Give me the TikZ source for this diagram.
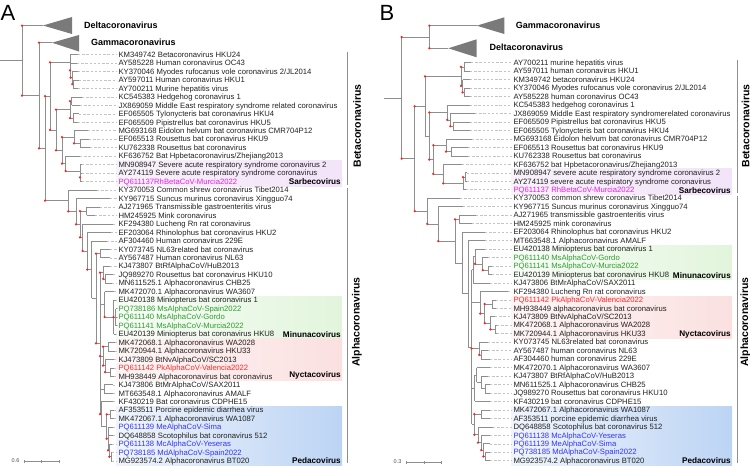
\documentclass[tikz,border=0pt]{standalone}
\usepackage{fontspec}
\setmainfont{Liberation Sans}
\usetikzlibrary{calc}
\definecolor{brc}{HTML}{8E8E8E}
\definecolor{dashc}{HTML}{C4C4C4}
\definecolor{txtc}{HTML}{222222}
\definecolor{dotc}{HTML}{FF1F1F}
\definecolor{tric}{HTML}{7A7A7A}
\definecolor{magL}{HTML}{E81FE8}
\definecolor{grnL}{HTML}{2E9E2E}
\definecolor{redL}{HTML}{FF2A2A}
\definecolor{bluL}{HTML}{3535F5}
\definecolor{sarL}{HTML}{F8F2FA}
\definecolor{sarR}{HTML}{F3E4F9}
\definecolor{minL}{HTML}{F8FCF7}
\definecolor{minR}{HTML}{E2F5DC}
\definecolor{nycL}{HTML}{FDF5F5}
\definecolor{nycR}{HTML}{FBE0E0}
\definecolor{pedL}{HTML}{F0F5FC}
\definecolor{pedR}{HTML}{BCD4F4}
\tikzset{
  br/.style={draw=brc,line width=0.6pt},
  dashln/.style={draw=dashc,line width=0.5pt,dash pattern=on 2.4pt off 1.8pt},
  lbl/.style={inner xsep=1.5pt,inner ysep=0pt,font=\fontsize{7.7}{8}\selectfont},
  clab/.style={inner sep=0pt,font=\fontsize{8.2}{9}\selectfont\bfseries,text=black,anchor=east},
  glab/.style={inner sep=0pt,font=\fontsize{9}{10}\selectfont\bfseries,text=black,anchor=west},
  vlab/.style={inner sep=0pt,rotate=90,font=\fontsize{10.5}{12}\selectfont\bfseries,text=black},
  tri/.style={fill=tric},
  brk/.style={draw=brc,line width=0.7pt},
  scl/.style={draw=brc,line width=0.5pt},
  scltxt/.style={inner sep=0pt,font=\fontsize{5.5}{6}\selectfont,text=black!70},
  panel/.style={inner sep=0pt,anchor=base west,font=\fontsize{22}{24}\selectfont,text=black}
}
\newcommand\lfA[5]{%
  \coordinate (#1) at (#3,{54.5+(#2-1)*8.469});
  \node[lbl,text=#4,anchor=base west] (#1t) at (116.8,{54.5+(#2-1)*8.469+2.75}) {#5};
  \draw[dashln] (#1) -- (#1t.west |- #1);
}
\newcommand\lfB[5]{%
  \coordinate (#1) at (#3,{62.7+(#2-1)*8.468});
  \node[lbl,text=#4,anchor=base west] (#1t) at (511.8,{62.7+(#2-1)*8.468+2.75}) {#5};
  \draw[dashln] (#1) -- (#1t.west |- #1);
}
\newcommand\clade[4]{%
  \coordinate (#1m) at ($(#3)!0.5!(#4)$);
  \coordinate (#1) at (#2,0 |- #1m);
  \draw[br] (#1 |- #3) -- (#1 |- #4);
  \draw[br] (#1 |- #3) -- (#3);
  \draw[br] (#1 |- #4) -- (#4);
}
\newcommand\midchild[2]{\draw[br] (#1 |- #2) -- (#2);}
\newcommand\sdot[2]{\fill[dotc] (#1 |- #2) circle (1.25pt);}
\begin{document}
\begin{tikzpicture}[x=1pt,y=-1pt]
\useasboundingbox (0,0) rectangle (750,466);
% ---------- highlight boxes ----------
\shade[left color=sarL, right color=sarR] (116,160) rectangle (342,186);
\shade[left color=minL, right color=minR] (116,296) rectangle (342,338);
\shade[left color=nycL, right color=nycR] (116,338) rectangle (342,380);
\shade[left color=pedL, right color=pedR] (116,406) rectangle (342,466);
\shade[left color=sarL, right color=sarR] (511,168.5) rectangle (732,194);
\shade[left color=minL, right color=minR] (511,245) rectangle (732,279);
\shade[left color=nycL, right color=nycR] (511,296) rectangle (732,338);
\shade[left color=pedL, right color=pedR] (511,406) rectangle (732,466);
% ---------- panel letters ----------
\node[panel] (pA) at (0.5,20) {A};
\node[panel] (pB) at (379.5,20) {B};
% ================= PANEL A =================
\coordinate (dA) at (43,25.5);
\fill[tri] (dA) -- (72,17) -- (72,34) -- cycle;
\coordinate (gA) at (52,42.7);
\fill[tri] (gA) -- (79,35) -- (79,51.5) -- cycle;
\node[glab] (dAl) at (84,25.5) {Deltacoronavirus};
\node[glab] (gAl) at (91,42.7) {Gammacoronavirus};
\lfA{a1}{1}{78}{txtc}{KM349742 Betacoronavirus HKU24}
\lfA{a2}{2}{77}{txtc}{AY585228 Human coronavirus OC43}
\lfA{a3}{3}{78}{txtc}{KY370046 Myodes rufocanus vole coronavirus 2/JL2014}
\lfA{a4}{4}{79}{txtc}{AY597011 Human coronavirus HKU1}
\lfA{a5}{5}{78}{txtc}{AY700211 Murine hepatitis virus}
\lfA{a6}{6}{82}{txtc}{KC545383 Hedgehog coronavirus 1}
\lfA{a7}{7}{80}{txtc}{JX869059 Middle East respiratory syndrome related coronavirus}
\lfA{a8}{8}{79}{txtc}{EF065505 Tylonycteris bat coronavirus HKU4}
\lfA{a9}{9}{78}{txtc}{EF065509 Pipistrellus bat coronavirus HKU5}
\lfA{a10}{10}{88}{txtc}{MG693168 Eidolon helvum bat coronavirus CMR704P12}
\lfA{a11}{11}{89}{txtc}{EF065513 Rousettus bat coronavirus HKU9}
\lfA{a12}{12}{90}{txtc}{KU762338 Rousettus bat coronavirus}
\lfA{a13}{13}{80}{txtc}{KF636752 Bat Hpbetacoronavirus/Zhejiang2013}
\lfA{a14}{14}{82}{txtc}{MN908947 Severe acute respiratory syndrome coronavirus 2}
\lfA{a15}{15}{82}{txtc}{AY274119 Severe acute respiratory syndrome coronavirus}
\lfA{a16}{16}{82}{magL}{PQ611137RhBetaCoV-Murcia2022}
\lfA{a17}{17}{97}{txtc}{KY370053 Common shrew coronavirus Tibet2014}
\lfA{a18}{18}{110}{txtc}{KY967715 Suncus murinus coronavirus Xingguo74}
\lfA{a19}{19}{100}{txtc}{AJ271965 Transmissible gastroenteritis virus}
\lfA{a20}{20}{95}{txtc}{HM245925 Mink coronavirus}
\lfA{a21}{21}{113}{txtc}{KF294380 Lucheng Rn rat coronavirus}
\lfA{a22}{22}{111}{txtc}{EF203064 Rhinolophus bat coronavirus HKU2}
\lfA{a23}{23}{107}{txtc}{AF304460 Human coronavirus 229E}
\lfA{a24}{24}{110}{txtc}{KY073745 NL63related bat coronavirus}
\lfA{a25}{25}{110}{txtc}{AY567487 Human coronavirus NL63}
\lfA{a26}{26}{110}{txtc}{KJ473807 BtRfAlphaCoV/HuB2013}
\lfA{a27}{27}{113}{txtc}{JQ989270 Rousettus bat coronavirus HKU10}
\lfA{a28}{28}{112}{txtc}{MN611525.1 Alphacoronavirus CHB25}
\lfA{a29}{29}{114}{txtc}{MK472070.1 Alphacoronavirus WA3607}
\lfA{a30}{30}{116}{txtc}{EU420138 Miniopterus bat coronavirus 1}
\lfA{a31}{31}{116.5}{grnL}{PQ738186 MsAlphaCoV-Spain2022}
\lfA{a32}{32}{116.5}{grnL}{PQ611140 MsAlphaCoV-Gordo}
\lfA{a33}{33}{116.5}{grnL}{PQ611141 MsAlphaCoV-Murcia2022}
\lfA{a34}{34}{116}{txtc}{EU420139 Miniopterus bat coronavirus HKU8}
\lfA{a35}{35}{115}{txtc}{MK472068.1 Alphacoronavirus WA2028}
\lfA{a36}{36}{115}{txtc}{MK720944.1 Alphacoronavirus HKU33}
\lfA{a37}{37}{114}{txtc}{KJ473809 BtNvAlphaCoV/SC2013}
\lfA{a38}{38}{114}{redL}{PQ611142 PkAlphaCoV-Valencia2022}
\lfA{a39}{39}{114}{txtc}{MH938449 Alphacoronavirus bat coronavirus}
\lfA{a40}{40}{113}{txtc}{KJ473806 BtMrAlphaCoV/SAX2011}
\lfA{a41}{41}{113}{txtc}{MT663548.1 Alphacoronavirus AMALF}
\lfA{a42}{42}{113}{txtc}{KF430219 Bat coronavirus CDPHE15}
\lfA{a43}{43}{114}{txtc}{AF353511 Porcine epidemic diarrhea virus}
\lfA{a44}{44}{114}{txtc}{MK472067.1 Alphacoronavirus WA1087}
\lfA{a45}{45}{113}{bluL}{PQ611139 MeAlphaCoV-Sima}
\lfA{a46}{46}{113}{txtc}{DQ648858 Scotophilus bat coronavirus 512}
\lfA{a47}{47}{112}{bluL}{PQ611138 McAlphaCoV-Yeseras}
\lfA{a48}{48}{112}{bluL}{PQ738185 MdAlphaCoV-Spain2022}
\lfA{a49}{49}{112}{txtc}{MG923574.2 Alphacoronavirus BT020}
% Beta A
\clade{aB1c}{73.3}{a4}{a5}
\clade{aB1b}{72.3}{a3}{aB1c}
\clade{aB1a}{70.7}{a2}{aB1b}
\clade{aB1}{70}{a1}{aB1a}
\clade{aM1}{71.5}{a6}{a7}
\clade{aM2}{73}{a8}{a9}
\clade{aM}{70}{aM1}{aM2}
\clade{aN1}{80}{a11}{a12}
\clade{aN}{74}{a10}{aN1}
\clade{aS2}{80.7}{a15}{a16}
\clade{aS1}{80}{a14}{aS2}
\clade{aS}{65.7}{a13}{aS1}
\clade{aB3}{62}{aN}{aS}
\clade{aB2}{56}{aM}{aB3}
\clade{aBeta}{50}{aB1}{aB2}
% Alpha A
\clade{aT}{86.7}{a19}{a20}
\clade{aA8}{100}{a24}{a25}
\clade{aG1a}{105}{a27}{a28}
\clade{aG1}{103.3}{a26}{aG1a}
\clade{aMi1}{115.5}{a31}{a33}
\midchild{aMi1}{a32}
\clade{aMi}{113.5}{a30}{a34}
\midchild{aMi}{aMi1}
\clade{aMn}{104.7}{a29}{aMi}
\clade{aNyP1}{108}{a35}{a36}
\clade{aNyP2}{110}{a38}{a39}
\clade{aNy1}{105}{a37}{aNyP2}
\clade{aNy}{103}{aNyP1}{aNy1}
\clade{aKM}{104}{a40}{a41}
\clade{aPe5}{111}{a48}{a49}
\clade{aPe4}{109.3}{a47}{aPe5}
\clade{aPe3}{108}{a45}{aPe4}
\midchild{aPe3}{a46}
\clade{aPe2}{110}{a43}{a44}
\clade{aPe1}{106.7}{aPe2}{aPe3}
\clade{aPe}{101.3}{a42}{aPe1}
\clade{aA9}{100}{aG1}{aPe}
\midchild{aA9}{aMn}
\midchild{aA9}{aNy}
\midchild{aA9}{aKM}
\clade{aA7}{96}{aA8}{aA9}
\clade{aA6}{91.7}{a23}{aA7}
\clade{aA5}{87.3}{a22}{aA6}
\clade{aA4}{82.7}{a21}{aA5}
\clade{aA2}{80}{aT}{aA4}
\clade{aA1}{76}{a18}{aA2}
\clade{aA0}{68.3}{a17}{aA1}
\clade{aBA}{45}{aBeta}{aA0}
\clade{aGB}{39}{gA}{aBA}
\clade{aR}{22}{dA}{aGB}
\coordinate (aR0) at (0,0 |- aR);
\draw[br] (aR0) -- (aR);
% clade labels A
\node[clab] (sarA) at (341,181.7) {Sarbecovirus};
\node[clab] (minA) at (341,334.3) {Minunacovirus};
\node[clab] (nycA) at (341,375.7) {Nyctacovirus};
\node[clab] (pedA) at (341,460.7) {Pedacovirus};
\coordinate (bkA1) at (347.7,52); \coordinate (bkA2) at (347.7,185);
\coordinate (bkA3) at (347.7,188); \coordinate (bkA4) at (347.7,463);
\draw[brk] (bkA1) -- (bkA2);
\draw[brk] (bkA3) -- (bkA4);
\node[vlab] (betaA) at (357,126) {Betacoronavirus};
\node[vlab] (alphaA) at (357,322) {Alphacoronavirus};
% scale A
\node[scltxt] (sA) at (15.5,461) {0.6};
\coordinate (sA1) at (24,461); \coordinate (sA2) at (59,461); \coordinate (sA3) at (41.5,461);
\draw[scl] (sA1) -- (sA2);
\draw[scl] ([yshift=-1.5pt]sA1) -- ([yshift=1.5pt]sA1);
\draw[scl] ([yshift=-1.5pt]sA2) -- ([yshift=1.5pt]sA2);
\draw[scl] ([yshift=-1.5pt]sA3) -- ([yshift=1.5pt]sA3);
% ================= PANEL B =================
\coordinate (gB) at (476.7,25.7);
\fill[tri] (gB) -- (504.3,17.3) -- (504.3,34) -- cycle;
\coordinate (dB) at (448.3,48.3);
\fill[tri] (dB) -- (476.7,39.3) -- (476.7,57.3) -- cycle;
\node[glab] (gBl) at (515.7,25.7) {Gammacoronavirus};
\node[glab] (dBl) at (489.3,47.3) {Deltacoronavirus};
\lfB{b1}{1}{471}{txtc}{AY700211 murine hepatitis virus}
\lfB{b2}{2}{470}{txtc}{AY597011 human coronavirus HKU1}
\lfB{b3}{3}{470}{txtc}{KM349742 betacoronavirus HKU24}
\lfB{b4}{4}{470}{txtc}{KY370046 Myodes rufocanus vole coronavirus 2/JL2014}
\lfB{b5}{5}{470}{txtc}{AY585228 human coronavirus OC43}
\lfB{b6}{6}{470}{txtc}{KC545383 hedgehog coronavirus 1}
\lfB{b7}{7}{475}{txtc}{JX869059 Middle East respiratory syndromerelated coronavirus}
\lfB{b8}{8}{470}{txtc}{EF065509 Pipistrellus bat coronavirus HKU5}
\lfB{b9}{9}{470}{txtc}{EF065505 Tylonycteris bat coronavirus HKU4}
\lfB{b10}{10}{472}{txtc}{MG693168 Eidolon helvum bat coronavirus CMR704P12}
\lfB{b11}{11}{468}{txtc}{EF065513 Rousettus bat coronavirus HKU9}
\lfB{b12}{12}{468}{txtc}{KU762338 Rousettus bat coronavirus}
\lfB{b13}{13}{462}{txtc}{KF636752 bat Hpbetacoronavirus/Zhejiang2013}
\lfB{b14}{14}{467}{txtc}{MN908947 severe acute respiratory syndrome coronavirus 2}
\lfB{b15}{15}{467}{txtc}{AY274119 severe acute respiratory syndrome coronavirus}
\lfB{b16}{16}{466}{magL}{PQ611137 RhBetaCoV-Murcia2022}
\lfB{b17}{17}{460}{txtc}{KY370053 common shrew coronavirus Tibet2014}
\lfB{b18}{18}{463}{txtc}{KY967715 Suncus murinus coronavirus Xingguo74}
\lfB{b19}{19}{476}{txtc}{AJ271965 transmissible gastroenteritis virus}
\lfB{b20}{20}{472}{txtc}{HM245925 mink coronavirus}
\lfB{b21}{21}{485}{txtc}{EF203064 Rhinolophus bat coronavirus HKU2}
\lfB{b22}{22}{485}{txtc}{MT663548.1 Alphacoronavirus AMALF}
\lfB{b23}{23}{485}{txtc}{EU420138 Miniopterus bat coronavirus 1}
\lfB{b24}{24}{488}{grnL}{PQ611140 MsAlphaCoV-Gordo}
\lfB{b25}{25}{492}{grnL}{PQ611141 MsAlphaCoV-Murcia2022}
\lfB{b26}{26}{492}{txtc}{EU420139 Miniopterus bat coronavirus HKU8}
\lfB{b27}{27}{490}{txtc}{KJ473806 BtMrAlphaCoV/SAX2011}
\lfB{b28}{28}{508}{txtc}{KF294380 Lucheng Rn rat coronavirus}
\lfB{b29}{29}{496}{redL}{PQ611142 PkAlphaCoV-Valencia2022}
\lfB{b30}{30}{496}{txtc}{MH938449 alphacoronavirus bat coronavirus}
\lfB{b31}{31}{495}{txtc}{KJ473809 BtNvAlphaCoV/SC2013}
\lfB{b32}{32}{497}{txtc}{MK472068.1 Alphacoronavirus WA2028}
\lfB{b33}{33}{497}{txtc}{MK720944.1 Alphacoronavirus HKU33}
\lfB{b34}{34}{488}{txtc}{KY073745 NL63related bat coronavirus}
\lfB{b35}{35}{488}{txtc}{AY567487 human coronavirus NL63}
\lfB{b36}{36}{490}{txtc}{AF304460 human coronavirus 229E}
\lfB{b37}{37}{490}{txtc}{MK472070.1 Alphacoronavirus WA3607}
\lfB{b38}{38}{488}{txtc}{KJ473807 BtRfAlphaCoV/HuB2013}
\lfB{b39}{39}{490}{txtc}{MN611525.1 Alphacoronavirus CHB25}
\lfB{b40}{40}{490}{txtc}{JQ989270 Rousettus bat coronavirus HKU10}
\lfB{b41}{41}{490}{txtc}{KF430219 bat coronavirus CDPHE15}
\lfB{b42}{42}{490}{txtc}{MK472067.1 Alphacoronavirus WA1087}
\lfB{b43}{43}{490}{txtc}{AF353511 porcine epidemic diarrhea virus}
\lfB{b44}{44}{493}{txtc}{DQ648858 Scotophilus bat coronavirus 512}
\lfB{b45}{45}{490}{bluL}{PQ611138 McAlphaCoV-Yeseras}
\lfB{b46}{46}{490}{bluL}{PQ611139 MeAlphaCoV-Sima}
\lfB{b47}{47}{490}{bluL}{PQ738185 MdAlphaCoV-Spain2022}
\lfB{b48}{48}{490}{txtc}{MG923574.2 Alphacoronavirus BT020}
% Beta B
\clade{bP1}{464}{b1}{b2}
\clade{bP3}{464.5}{b4}{b5}
\clade{bP2}{462.5}{b3}{bP3}
\clade{bE}{461}{bP1}{bP2}
\clade{bM2}{453}{b8}{b9}
\clade{bM1}{450.3}{b7}{bM2}
\clade{bM}{447.3}{b6}{bM1}
\clade{bN1}{451}{b11}{b12}
\clade{bN}{446}{b10}{bN1}
\clade{bS2}{465}{b14}{b15}
\clade{bS1}{463}{bS2}{b16}
\clade{bS}{443.3}{b13}{bS1}
\clade{bNS}{433.3}{bN}{bS}
\clade{bB1}{429.3}{bM}{bNS}
\clade{bBeta}{425}{bE}{bB1}
% Alpha B
\clade{bT}{459}{b19}{b20}
\clade{bMi2}{488}{b25}{b26}
\clade{bMi1}{482.7}{b24}{bMi2}
\clade{bMi}{475}{b23}{bMi1}
\clade{bZ}{473}{bMi}{b27}
\clade{bNy1}{492.3}{b29}{b30}
\clade{bNy3}{495}{b32}{b33}
\clade{bNy2}{490.3}{b31}{bNy3}
\clade{bNy}{484.7}{bNy1}{bNy2}
\clade{bK}{480.3}{b28}{bNy}
\clade{bQ}{481}{b35}{b36}
\clade{bN63}{479.3}{b34}{bQ}
\clade{bWA2}{485}{b39}{b40}
\clade{bWA1}{481}{b38}{bWA2}
\clade{bWA}{476.7}{b37}{bWA1}
\clade{bWB}{474.7}{bWA}{b41}
\clade{bPd1}{481}{b42}{b43}
\clade{bPd5}{485.3}{b47}{b48}
\clade{bPd4}{483.3}{b46}{bPd5}
\clade{bPd3}{481.3}{b45}{bPd4}
\clade{bPd2}{478}{b44}{bPd3}
\clade{bPd}{474.3}{bPd1}{bPd2}
\clade{bW}{471.7}{bZ}{bPd}
\midchild{bW}{bK}
\midchild{bW}{bN63}
\midchild{bW}{bWB}
\clade{bAL4}{468.3}{b22}{bW}
\clade{bAL3}{462.7}{b21}{bAL4}
\clade{bAL2}{455}{bT}{bAL3}
\clade{bAL1}{438.3}{b18}{bAL2}
\clade{bAL}{427.3}{b17}{bAL1}
\clade{bBA}{414.7}{bBeta}{bAL}
\clade{bGD}{429.3}{gB}{dB}
\clade{bR}{401.7}{bGD}{bBA}
\coordinate (bR0) at (384.3,0 |- bR);
\draw[br] (bR0) -- (bR);
% clade labels B
\node[clab] (sarB) at (731,190.7) {Sarbecovirus};
\node[clab] (minB) at (731,276) {Minunacovirus};
\node[clab] (nycB) at (731,334.7) {Nyctacovirus};
\node[clab] (pedB) at (731,460.7) {Pedacovirus};
\coordinate (bkB1) at (737.7,60); \coordinate (bkB2) at (737.7,193);
\coordinate (bkB3) at (737.7,196); \coordinate (bkB4) at (737.7,463);
\draw[brk] (bkB1) -- (bkB2);
\draw[brk] (bkB3) -- (bkB4);
\node[vlab] (betaB) at (745.5,126) {Betacoronavirus};
\node[vlab] (alphaB) at (745.5,322) {Alphacoronavirus};
% scale B
\node[scltxt] (sB) at (397.5,462) {0.3};
\coordinate (sB1) at (406.7,462); \coordinate (sB2) at (441,462); \coordinate (sB3) at (424,462);
\draw[scl] (sB1) -- (sB2);
\draw[scl] ([yshift=-1.5pt]sB1) -- ([yshift=1.5pt]sB1);
\draw[scl] ([yshift=-1.5pt]sB2) -- ([yshift=1.5pt]sB2);
\draw[scl] ([yshift=-1.5pt]sB3) -- ([yshift=1.5pt]sB3);
% ================= support dots =================
\sdot{aR}{dA} \sdot{aR}{aGB} \sdot{aGB}{gA} \sdot{aGB}{aBA}
\sdot{aBA}{aBeta} \sdot{aBA}{aA0} \sdot{aBeta}{aB1} \sdot{aBeta}{aB2}
\sdot{aB1}{aB1a} \sdot{aB1a}{aB1b} \sdot{aB1b}{aB1c}
\sdot{aB2}{aM} \sdot{aB2}{aB3} \sdot{aM}{aM1} \sdot{aM}{aM2}
\sdot{aB3}{aN} \sdot{aB3}{aS} \sdot{aN}{aN1} \sdot{aS}{aS1} \sdot{aS1}{aS2}
\sdot{aA0}{aA1} \sdot{aA1}{aA2} \sdot{aA2}{aT} \sdot{aA2}{aA4}
\sdot{aA4}{aA5} \sdot{aA5}{aA6} \sdot{aA7}{aA8} \sdot{aA7}{aA9}
\sdot{aA9}{aG1} \sdot{aG1}{aG1a} \sdot{aMn}{aMi} \sdot{aMi}{aMi1}
\sdot{aA9}{aNy} \sdot{aNy}{aNyP1} \sdot{aNy}{aNy1} \sdot{aNy1}{aNyP2}
\sdot{aA9}{aPe} \sdot{aPe1}{aPe2} \sdot{aPe1}{aPe3} \sdot{aPe3}{aPe4} \sdot{aPe4}{aPe5}
\sdot{bR}{bGD} \sdot{bR}{bBA} \sdot{bGD}{gB} \sdot{bGD}{dB}
\sdot{bBA}{bBeta} \sdot{bBA}{bAL} \sdot{bBeta}{bE} \sdot{bE}{bP1} \sdot{bE}{bP2} \sdot{bP2}{bP3}
\sdot{bB1}{bM} \sdot{bM}{bM1} \sdot{bM1}{bM2} \sdot{bB1}{bNS}
\sdot{bNS}{bN} \sdot{bN}{bN1} \sdot{bNS}{bS} \sdot{bS}{bS1} \sdot{bS1}{bS2}
\sdot{bAL}{bAL1} \sdot{bAL1}{bAL2} \sdot{bAL2}{bT}
\sdot{bMi}{bMi1} \sdot{bMi1}{bMi2}
\sdot{bK}{bNy} \sdot{bNy}{bNy1} \sdot{bNy}{bNy2} \sdot{bNy2}{bNy3}
\sdot{bW}{bN63} \sdot{bN63}{bQ}
\sdot{bPd}{bPd1} \sdot{bPd}{bPd2} \sdot{bPd2}{bPd3} \sdot{bPd3}{bPd4} \sdot{bPd4}{bPd5}
\end{tikzpicture}
\end{document}
